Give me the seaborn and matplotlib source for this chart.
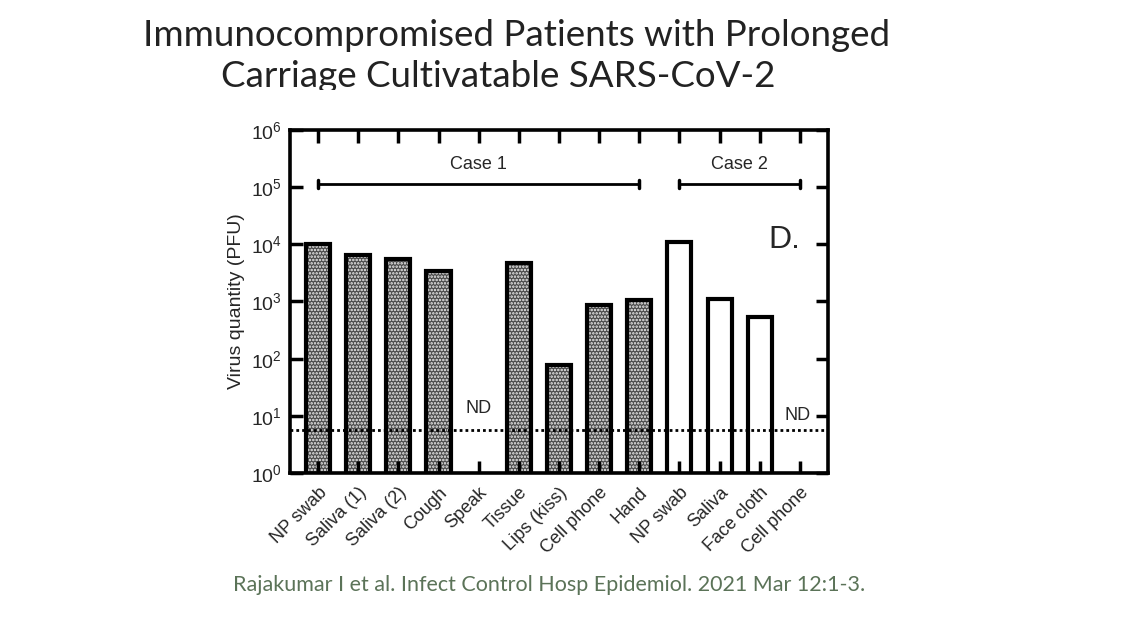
import numpy as np
import pandas as pd
import seaborn as sns
import matplotlib.pyplot as plt
from matplotlib.patches import Rectangle
from matplotlib.ticker import LogLocator, NullLocator


# values (PFU); NaN = not detected
labels = ['NP swab', 'Saliva (1)', 'Saliva (2)', 'Cough', 'Speak', 'Tissue',
          'Lips (kiss)', 'Cell phone', 'Hand',
          'NP swab', 'Saliva', 'Face cloth', 'Cell phone']
cases = ['Case 1'] * 9 + ['Case 2'] * 4
pfu = [10000, 6500, 5500, 3400, np.nan, 4700, 78, 870, 1060,
       11000, 1100, 540, np.nan]
detection_limit = 5.6
bracket_level = 1.15e5

df = pd.DataFrame({'pos': range(len(labels)), 'label': labels, 'case': cases, 'pfu': pfu})

sns.set_style('white')
plt.rcParams['font.family'] = ['Liberation Sans', 'DejaVu Sans']
plt.rcParams['mathtext.default'] = 'regular'
plt.rcParams['hatch.linewidth'] = 1.2

fig = plt.figure(figsize=(11.46, 6.24), dpi=100)
ax = fig.add_axes([0.253, 0.242, 0.4695, 0.5497])

# filled layer (dotted texture for case 1, plain white for case 2)
sns.barplot(data=df, x='pos', y='pfu', hue='case', dodge=False, width=0.6,
            palette={'Case 1': '#4a4a4a', 'Case 2': 'white'},
            linewidth=0, legend=False, ax=ax, native_scale=True)
for p in ax.patches:
    i = int(round(p.get_x() + p.get_width() / 2))
    if cases[i] == 'Case 1':
        p.set_hatch('.....')
        p.set_edgecolor('#f2f2f2')
        p.set_linewidth(0)

# black outlines
sns.barplot(data=df, x='pos', y='pfu', dodge=False, width=0.6, fill=False,
            edgecolor='black', linewidth=3, ax=ax, native_scale=True)

ax.set_yscale('log')
ax.set_ylim(1, 1e6)
ax.set_xlim(-0.7, 12.7)
ax.yaxis.set_major_locator(LogLocator(base=10, numticks=10))
ax.yaxis.set_minor_locator(NullLocator())

ax.axhline(detection_limit, color='black', linestyle=(0, (1, 1.1)), linewidth=2, zorder=5)

# case brackets
for start, end, name in [(0, 8, 'Case 1'), (9, 12, 'Case 2')]:
    ax.plot([start, end], [bracket_level, bracket_level], color='black', linewidth=2)
    for x in (start, end):
        ax.plot([x, x], [bracket_level * 0.85, bracket_level * 1.18], color='black', linewidth=2.5)
    ax.text((start + end) / 2, bracket_level * 1.55, name, ha='center', va='bottom', fontsize=13)

ax.text(4, 9.5, 'ND', ha='center', va='bottom', fontsize=13)
ax.text(12.26, 10, 'ND', ha='right', va='center', fontsize=13)
ax.text(12.0, 10 ** 4.07, 'D.', ha='right', va='center', fontsize=23)

ax.set_xticks(df['pos'])
ax.set_xticklabels(labels, rotation=45, ha='right', rotation_mode='anchor', fontsize=13)
ax.set_xlabel('')
ax.set_ylabel('Virus quantity (PFU)', fontsize=14, labelpad=4)
ax.tick_params(axis='y', labelsize=14)
ax.set_axisbelow(False)  # ticks on top of the bars
ax.xaxis.set_ticks_position('both')
ax.yaxis.set_ticks_position('both')
ax.tick_params(direction='in', length=9, width=2.5, pad=6, color='black')
ax.tick_params(axis='x', pad=8)
for s in ax.spines.values():
    s.set_linewidth(2.6)
    s.set_color('black')

fig.text(0.451, 0.943, 'Immunocompromised Patients with Prolonged', ha='center', va='center',
         fontsize=26.5, family='Lato', color='#222222')
fig.text(0.435, 0.878, 'Carriage Cultivatable SARS-CoV-2', ha='center', va='center',
         fontsize=26.5, family='Lato', color='#222222')
# slide crop cuts the bottom of the second title line
fig.patches.append(Rectangle((0.15, 0.815), 0.7, 0.04, transform=fig.transFigure,
                             facecolor='white', edgecolor='none', zorder=10))

fig.text(0.479, 0.062, 'Rajakumar I et al. Infect Control Hosp Epidemiol. 2021 Mar 12:1-3.',
         ha='center', va='center', fontsize=15.5, family='Lato', color='#5b7358')

fig.savefig('out.png', dpi=100, facecolor='white')
